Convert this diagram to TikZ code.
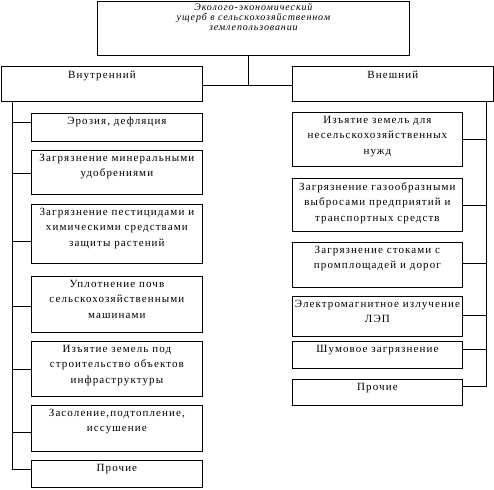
\documentclass[tikz,border=0pt]{standalone}
\usepackage{fontspec}
\setmainfont{Liberation Serif}[LetterSpace=10]
\usetikzlibrary{calc}

\begin{document}
\begin{tikzpicture}[x=1pt,y=-1pt,
  box/.style={draw,line width=0.8pt,inner sep=0pt,anchor=north west},
  lbox/.style={box,minimum width=171pt},
  rbox/.style={box,minimum width=170pt},
  txt/.style={anchor=north,align=center,inner sep=2pt,yshift=-2pt,font=\fontsize{11}{15.5}\selectfont},
  link/.style={line width=0.8pt}]
  \useasboundingbox (0,0) rectangle (494,489);
  % root
  \node[box,minimum width=312pt,minimum height=54pt,
    label={[txt,yshift=2pt,font=\itshape\addfontfeature{LetterSpace=9}\fontsize{10}{10}\selectfont]north:{Эколого-экономический\\ущерб в сельскохозяйственном\\землепользовании}}] (top) at (97,1) {};
  \node[box,minimum width=201pt,minimum height=35pt,label={[txt,yshift=-1pt]north:{Внутренний}}] (inner) at (1,66) {};
  \node[box,minimum width=201pt,minimum height=35pt,label={[txt,yshift=-1pt]north:{Внешний}}] (outer) at (292,66) {};
  \coordinate (mid) at (248,85);
  \draw[link] (top.south -| mid) -- (mid);
  \draw[link] (inner.east |- mid) -- (outer.west |- mid);
  % left column
  \node[lbox,minimum height=28pt,label={[txt]north:{Эрозия, дефляция}}] (l1) at (31,113) {};
  \node[lbox,minimum height=44pt,label={[txt]north:{Загрязнение минеральными\\удобрениями}}] (l2) at (31,150) {};
  \node[lbox,minimum height=59pt,label={[txt]north:{Загрязнение пестицидами и\\химическими средствами\\защиты растений}}] (l3) at (31,204) {};
  \node[lbox,minimum height=56pt,label={[txt]north:{Уплотнение почв\\сельскохозяйственными\\машинами}}] (l4) at (31,276) {};
  \node[lbox,minimum height=55pt,label={[txt]north:{Изъятие земель под\\строительство объектов\\инфраструктуры}}] (l5) at (31,341) {};
  \node[lbox,minimum height=46pt,label={[txt]north:{Засоление,подтопление,\\иссушение}}] (l6) at (31,405) {};
  \node[lbox,minimum height=27pt,label={[txt]north:{Прочие}}] (l7) at (31,460) {};
  \coordinate (ltrunk) at ($(inner.south west)+(11,0)$);
  \foreach \n/\d in {l1/9,l2/23,l3/37,l4/30,l5/28,l6/27,l7/9}
    \draw[link] ($(\n.north west)+(0,\d)$) -| (ltrunk);
  % right column
  \node[rbox,minimum height=54pt,label={[txt]north:{Изъятие земель для\\несельскохозяйственных\\нужд}}] (r1) at (292,112) {};
  \node[rbox,minimum height=53pt,label={[txt]north:{Загрязнение газообразными\\выбросами предприятий и\\транспортных средств}}] (r2) at (292,178) {};
  \node[rbox,minimum height=45pt,label={[txt]north:{Загрязнение стоками с\\промплощадей и дорог}}] (r3) at (292,242) {};
  \node[rbox,minimum height=40pt,label={[txt]north:{Электромагнитное излучение\\ЛЭП}}] (r4) at (292,296) {};
  \node[rbox,minimum height=27pt,label={[txt]north:{Шумовое загрязнение}}] (r5) at (292,341) {};
  \node[rbox,minimum height=26pt,label={[txt]north:{Прочие}}] (r6) at (292,379) {};
  \coordinate (rtrunk) at ($(outer.south east)+(-7,0)$);
  \foreach \n/\d in {r1/27,r2/27,r3/21,r4/19,r5/8,r6/7}
    \draw[link] ($(\n.north east)+(0,\d)$) -| (rtrunk);
\end{tikzpicture}
\end{document}
